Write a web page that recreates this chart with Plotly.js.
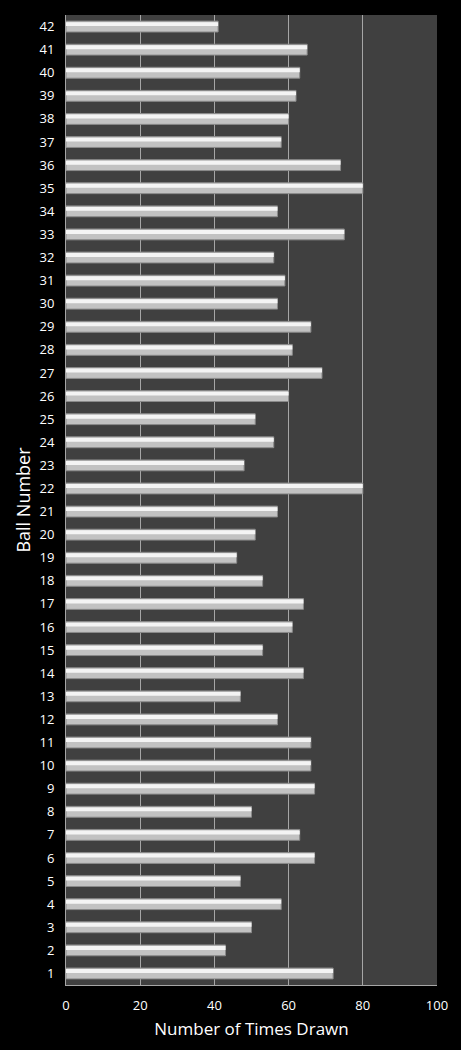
<!DOCTYPE html>
<html>
<head>
<meta charset="utf-8">
<script src="https://cdn.plot.ly/plotly-3.0.1.min.js"></script>
<style>html,body{margin:0;padding:0;background:#000;}</style>
</head>
<body>
<div id="chart" style="width:461px;height:1050px;"></div>
<script>
var ballNumbers = ["1","2","3","4","5","6","7","8","9","10","11","12","13","14","15","16","17","18","19","20","21","22","23","24","25","26","27","28","29","30","31","32","33","34","35","36","37","38","39","40","41","42"];
var timesDrawn = [72,43,50,58,47,67,63,50,67,66,66,57,47,64,53,61,64,53,46,51,57,80,48,56,51,60,69,61,66,57,59,56,75,57,80,74,58,60,62,63,65,41];
var xTickValues = [0,20,40,60,80,100];

var base = {
  type: 'bar', orientation: 'h',
  x: timesDrawn, y: ballNumbers,
  width: 0.47, offset: -0.235,
  marker: {color: '#c2c2c2', line: {color: '#8a8a8a', width: 1}},
  hoverinfo: 'skip', showlegend: false
};
var shine = {
  type: 'bar', orientation: 'h',
  x: timesDrawn, y: ballNumbers,
  width: 0.17, offset: 0.02,
  marker: {color: '#f4f4f4', line: {width: 0}},
  hoverinfo: 'skip', showlegend: false
};

var layout = {
  width: 461, height: 1050,
  paper_bgcolor: '#000000', plot_bgcolor: '#404040',
  margin: {l: 66, r: 24, t: 15, b: 65},
  barmode: 'overlay',
  font: {family: '"Open Sans", "Liberation Sans", sans-serif', color: '#ffffff', size: 13},
  xaxis: {
    range: [0, 100], tickvals: xTickValues, ticktext: xTickValues.map(String),
    showgrid: true, gridcolor: '#a6a6a6', gridwidth: 1,
    zeroline: false, showline: true, linecolor: '#a6a6a6', linewidth: 1,
    ticks: '', ticklen: 0, ticklabelstandoff: 8,
    tickfont: {size: 13, color: '#ffffff'},
    title: {text: 'Number of Times Drawn', font: {size: 17, color: '#ffffff'}, standoff: 10},
    fixedrange: true
  },
  yaxis: {
    type: 'category', categoryorder: 'array', categoryarray: ballNumbers,
    range: [-0.5, 41.5],
    showgrid: false, zeroline: false, showline: true, linecolor: '#a6a6a6', linewidth: 1,
    ticks: '', ticklen: 0, ticklabelstandoff: 8,
    tickfont: {size: 13, color: '#ffffff'},
    title: {text: 'Ball Number', font: {size: 18, color: '#ffffff'}, standoff: 4},
    fixedrange: true
  }
};

Plotly.newPlot('chart', [base, shine], layout, {displayModeBar: false, staticPlot: true});
</script>
</body>
</html>
